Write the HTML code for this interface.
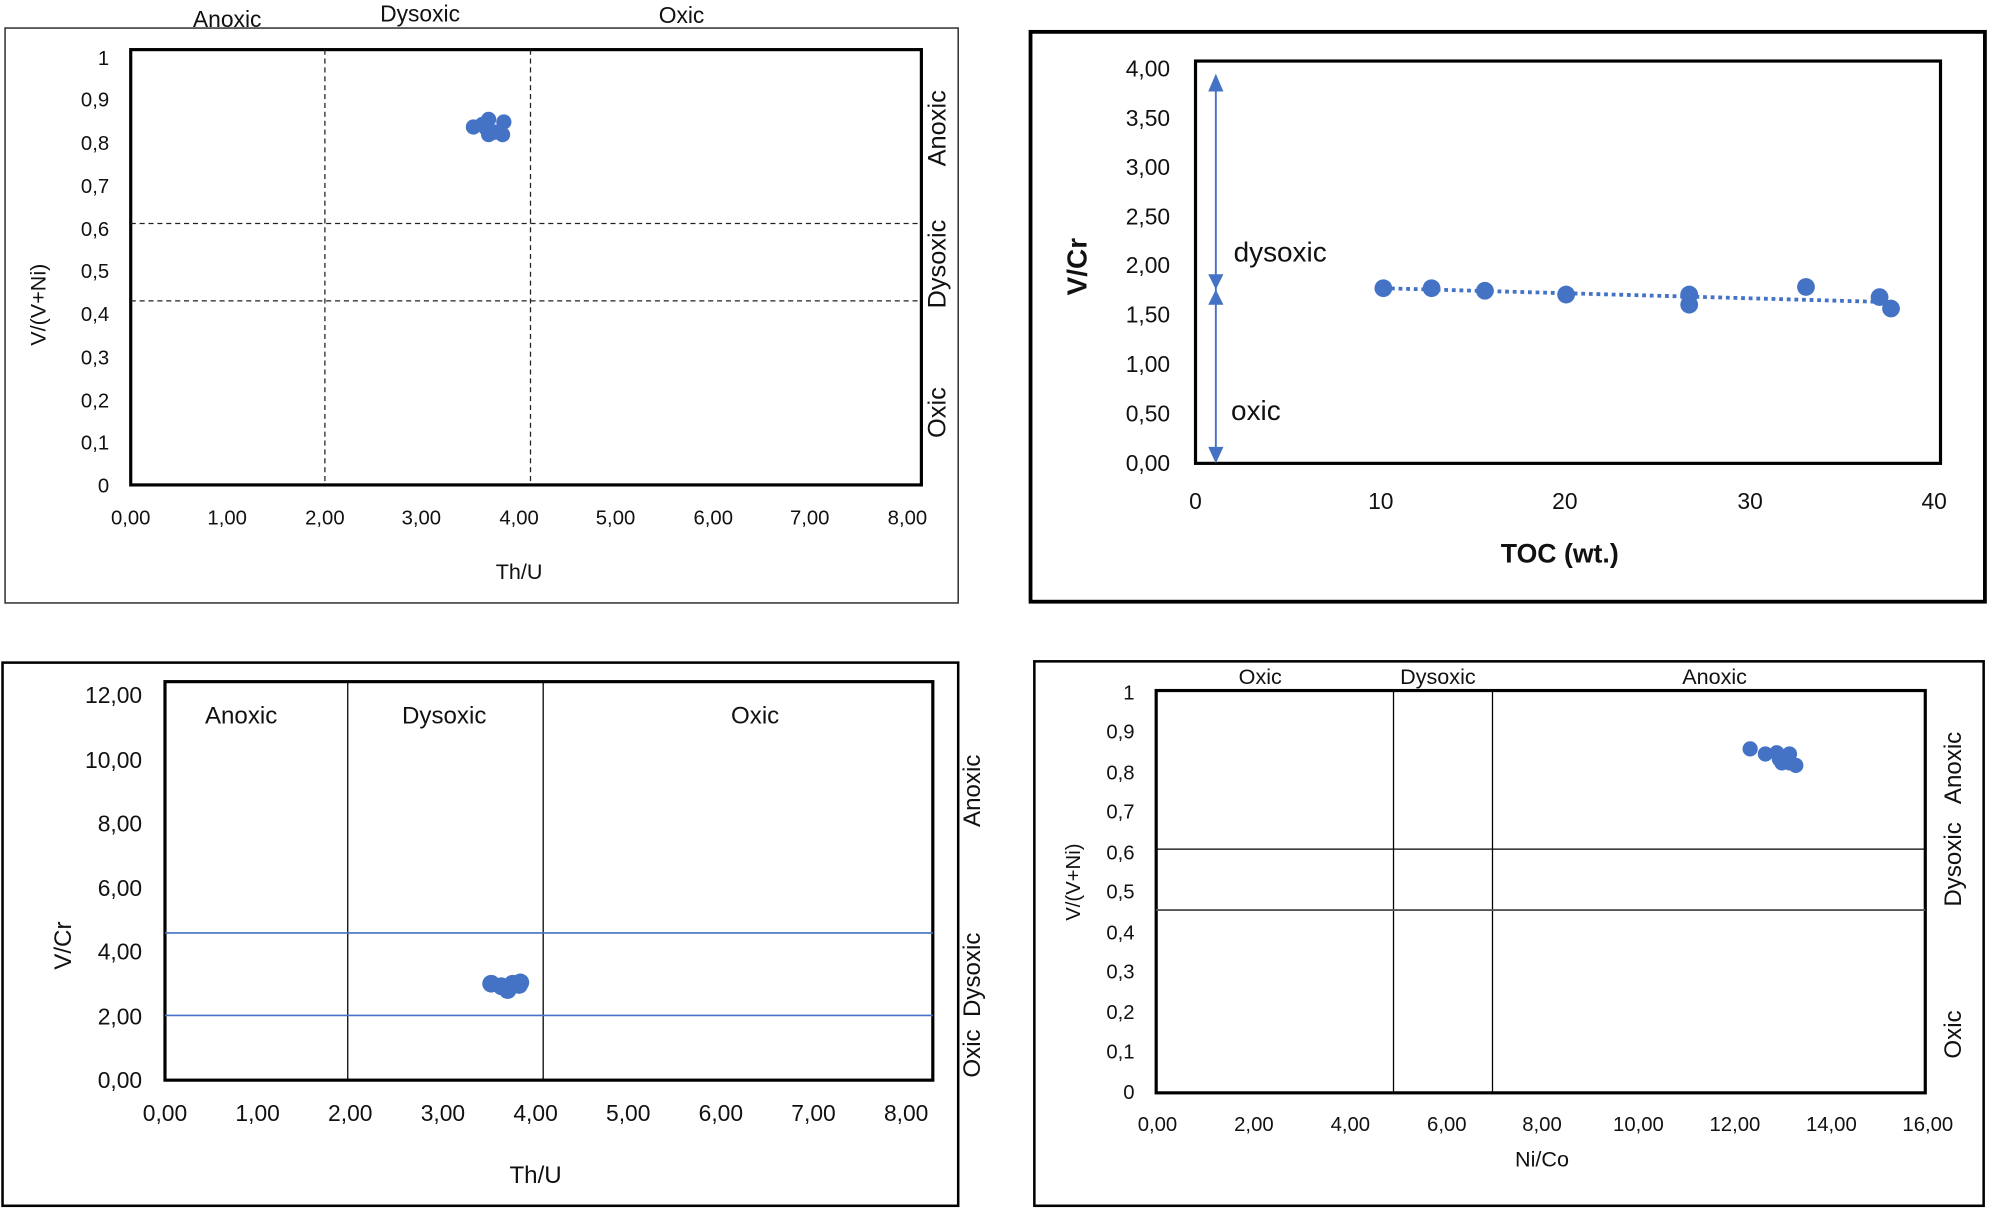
<!DOCTYPE html>
<html><head><meta charset="utf-8"><style>
html,body{margin:0;padding:0;background:#fff;}
svg{display:block;}
text{font-family:"Liberation Sans",sans-serif;fill:#111;}
</style></head><body>
<svg width="1990" height="1211" viewBox="0 0 1568 954" xmlns="http://www.w3.org/2000/svg">
<rect width="1568" height="954" fill="#fff"/>
<!-- Panel TL -->
<rect x="4" y="22" width="751" height="453" fill="none" stroke="#333" stroke-width="1.2"/>
<rect x="103" y="39" width="623" height="343" fill="none" stroke="#000" stroke-width="2.5"/>
<g stroke="#222" stroke-width="1" stroke-dasharray="4,3">
<line x1="256" y1="39" x2="256" y2="382"/><line x1="418" y1="39" x2="418" y2="382"/>
<line x1="103" y1="176" x2="726" y2="176"/><line x1="103" y1="237" x2="726" y2="237"/>
</g>
<g font-size="16" text-anchor="end">
<text x="86" y="51">1</text><text x="86" y="84">0,9</text><text x="86" y="118">0,8</text><text x="86" y="152">0,7</text><text x="86" y="186">0,6</text><text x="86" y="219">0,5</text><text x="86" y="253">0,4</text><text x="86" y="287">0,3</text><text x="86" y="321">0,2</text><text x="86" y="354">0,1</text><text x="86" y="388">0</text>
</g>
<g font-size="16" text-anchor="middle">
<text x="103" y="413">0,00</text><text x="179" y="413">1,00</text><text x="256" y="413">2,00</text><text x="332" y="413">3,00</text><text x="409" y="413">4,00</text><text x="485" y="413">5,00</text><text x="562" y="413">6,00</text><text x="638" y="413">7,00</text><text x="715" y="413">8,00</text>
<text x="409" y="456" font-size="17">Th/U</text>
<text x="179" y="21" font-size="18">Anoxic</text><text x="331" y="17" font-size="18">Dysoxic</text><text x="537" y="18" font-size="18">Oxic</text>
<text transform="translate(36,240) rotate(-90)" font-size="17">V/(V+Ni)</text>
<text transform="translate(745,101) rotate(-90)" font-size="20">Anoxic</text>
<text transform="translate(745,208) rotate(-90)" font-size="20">Dysoxic</text>
<text transform="translate(745,325) rotate(-90)" font-size="20">Oxic</text>
</g>
<g fill="#4472c4">
<circle cx="373" cy="100" r="6"/><circle cx="380" cy="98" r="6"/><circle cx="385" cy="94" r="6"/><circle cx="385" cy="106" r="6"/><circle cx="390" cy="104" r="6"/><circle cx="396" cy="106" r="6"/><circle cx="397" cy="96" r="6"/><circle cx="383" cy="101" r="6"/>
</g>
<!-- Panel TR -->
<rect x="812" y="25" width="752" height="449" fill="none" stroke="#000" stroke-width="3"/>
<rect x="942" y="48" width="587" height="317" fill="none" stroke="#000" stroke-width="2.5"/>
<g font-size="18" text-anchor="end">
<text x="922" y="60">4,00</text><text x="922" y="99">3,50</text><text x="922" y="138">3,00</text><text x="922" y="177">2,50</text><text x="922" y="215">2,00</text><text x="922" y="254">1,50</text><text x="922" y="293">1,00</text><text x="922" y="332">0,50</text><text x="922" y="371">0,00</text>
</g>
<g font-size="18" text-anchor="middle">
<text x="942" y="401">0</text><text x="1088" y="401">10</text><text x="1233" y="401">20</text><text x="1379" y="401">30</text><text x="1524" y="401">40</text>
<text x="1229" y="443" font-size="21" font-weight="bold">TOC (wt.)</text>
<text transform="translate(856,210) rotate(-90)" font-size="22" font-weight="bold">V/Cr</text>
</g>
<text x="972" y="206" font-size="22">dysoxic</text>
<text x="970" y="331" font-size="22">oxic</text>
<g stroke="#4472c4" stroke-width="1.5" fill="#4472c4">
<line x1="958" y1="62" x2="958" y2="362"/>
<polygon points="952,72 964,72 958,58" stroke="none"/>
<polygon points="952,352 964,352 958,365" stroke="none"/>
<polygon points="952,216 964,216 958,228" stroke="none"/>
<polygon points="952,240 964,240 958,228" stroke="none"/>
</g>
<line x1="1090" y1="227" x2="1490" y2="238" stroke="#4472c4" stroke-width="3" stroke-dasharray="3,3"/>
<g fill="#4472c4">
<circle cx="1090" cy="227" r="7"/><circle cx="1128" cy="227" r="7"/><circle cx="1170" cy="229" r="7"/><circle cx="1234" cy="232" r="7"/><circle cx="1331" cy="232" r="7"/><circle cx="1331" cy="240" r="7"/><circle cx="1423" cy="226" r="7"/><circle cx="1481" cy="234" r="7"/><circle cx="1490" cy="243" r="7"/>
</g>
<!-- Panel BL -->
<rect x="2" y="522" width="753" height="428" fill="none" stroke="#000" stroke-width="2"/>
<rect x="130" y="537" width="605" height="314" fill="none" stroke="#000" stroke-width="2.5"/>
<g stroke="#000" stroke-width="1"><line x1="274" y1="537" x2="274" y2="851"/><line x1="428" y1="537" x2="428" y2="851"/></g>
<g stroke="#4472c4" stroke-width="1.3"><line x1="130" y1="735" x2="735" y2="735"/><line x1="130" y1="800" x2="735" y2="800"/></g>
<g font-size="18" text-anchor="end">
<text x="112" y="554">12,00</text><text x="112" y="605">10,00</text><text x="112" y="655">8,00</text><text x="112" y="706">6,00</text><text x="112" y="756">4,00</text><text x="112" y="807">2,00</text><text x="112" y="857">0,00</text>
</g>
<g font-size="18" text-anchor="middle">
<text x="130" y="883">0,00</text><text x="203" y="883">1,00</text><text x="276" y="883">2,00</text><text x="349" y="883">3,00</text><text x="422" y="883">4,00</text><text x="495" y="883">5,00</text><text x="568" y="883">6,00</text><text x="641" y="883">7,00</text><text x="714" y="883">8,00</text>
<text x="422" y="932" font-size="19">Th/U</text>
<text x="190" y="570" font-size="19">Anoxic</text><text x="350" y="570" font-size="19">Dysoxic</text><text x="595" y="570" font-size="19">Oxic</text>
<text transform="translate(56,745) rotate(-90)" font-size="19">V/Cr</text>
<text transform="translate(772,623) rotate(-90)" font-size="19">Anoxic</text>
<text transform="translate(772,768) rotate(-90)" font-size="19">Dysoxic</text>
<text transform="translate(772,830) rotate(-90)" font-size="19">Oxic</text>
</g>
<g fill="#4472c4">
<circle cx="387" cy="775" r="7"/><circle cx="395" cy="777" r="7"/><circle cx="400" cy="780" r="7"/><circle cx="404" cy="775" r="7"/><circle cx="410" cy="774" r="7"/><circle cx="409" cy="776" r="7"/>
</g>
<!-- Panel BR -->
<rect x="815" y="521" width="748" height="429" fill="none" stroke="#000" stroke-width="2"/>
<rect x="911" y="544" width="606" height="317" fill="none" stroke="#000" stroke-width="2.5"/>
<g stroke="#000" stroke-width="1">
<line x1="1098" y1="544" x2="1098" y2="861"/><line x1="1176" y1="544" x2="1176" y2="861"/>
<line x1="911" y1="669" x2="1517" y2="669"/><line x1="911" y1="717" x2="1517" y2="717" stroke="#555" stroke-width="1.5"/>
</g>
<g font-size="16" text-anchor="end">
<text x="894" y="551">1</text><text x="894" y="582">0,9</text><text x="894" y="614">0,8</text><text x="894" y="645">0,7</text><text x="894" y="677">0,6</text><text x="894" y="708">0,5</text><text x="894" y="740">0,4</text><text x="894" y="771">0,3</text><text x="894" y="803">0,2</text><text x="894" y="834">0,1</text><text x="894" y="866">0</text>
</g>
<g font-size="16" text-anchor="middle">
<text x="912" y="891">0,00</text><text x="988" y="891">2,00</text><text x="1064" y="891">4,00</text><text x="1140" y="891">6,00</text><text x="1215" y="891">8,00</text><text x="1291" y="891">10,00</text><text x="1367" y="891">12,00</text><text x="1443" y="891">14,00</text><text x="1519" y="891">16,00</text>
<text x="1215" y="919" font-size="17">Ni/Co</text>
<text x="993" y="539" font-size="17">Oxic</text><text x="1133" y="539" font-size="17">Dysoxic</text><text x="1351" y="539" font-size="17">Anoxic</text>
<text transform="translate(851,695) rotate(-90)" font-size="16">V/(V+Ni)</text>
<text transform="translate(1545,605) rotate(-90)" font-size="19">Anoxic</text>
<text transform="translate(1545,681) rotate(-90)" font-size="19">Dysoxic</text>
<text transform="translate(1545,815) rotate(-90)" font-size="19">Oxic</text>
</g>
<g fill="#4472c4">
<circle cx="1379" cy="590" r="6"/><circle cx="1391" cy="594" r="6"/><circle cx="1400" cy="593" r="6"/><circle cx="1410" cy="594" r="6"/><circle cx="1404" cy="601" r="6"/><circle cx="1410" cy="601" r="6"/><circle cx="1415" cy="603" r="6"/><circle cx="1402" cy="598" r="6"/>
</g>
</svg>
</body></html>
